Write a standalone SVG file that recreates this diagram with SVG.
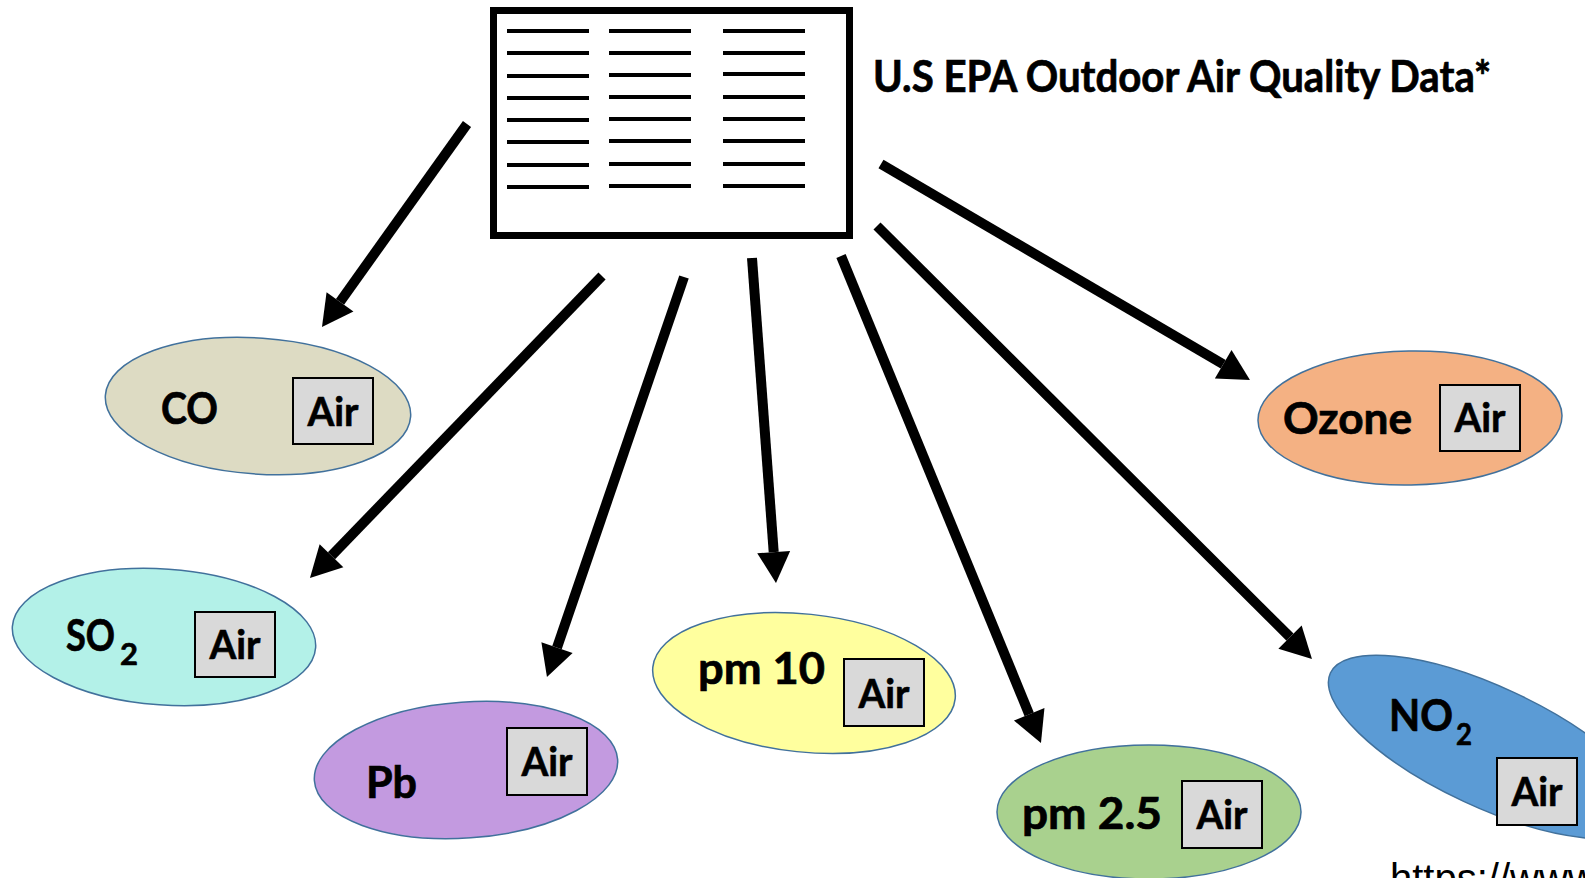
<svg xmlns="http://www.w3.org/2000/svg" width="1585" height="878" viewBox="0 0 1585 878">
<style>
.lbl{font-family:Lato,"Open Sans","Liberation Sans",sans-serif;font-weight:bold;font-size:43px;fill:#000;stroke:#000;stroke-width:0.7}
.sub{font-family:Lato,"Open Sans","Liberation Sans",sans-serif;font-weight:bold;font-size:30px;fill:#000;stroke:#000;stroke-width:0.6}
.air{font-family:Lato,"Open Sans","Liberation Sans",sans-serif;font-weight:bold;font-size:40px;fill:#000;stroke:#000;stroke-width:0.6;text-anchor:middle}
.ell{stroke:#41719C;stroke-width:1.5}
.box{fill:#D9D9D9;stroke:#000;stroke-width:2}
.row{stroke:#000;stroke-width:4}
.arr{stroke:#000;stroke-width:10;fill:none;marker-end:url(#head)}
</style>
<defs>
<marker id="head" markerUnits="userSpaceOnUse" markerWidth="40" markerHeight="40" viewBox="0 -20 40 40" refX="0" refY="0" orient="auto" overflow="visible">
<path d="M0,-16.5 L31,0 L0,16.5 Z" fill="#000"/>
</marker>
</defs>
<rect width="1585" height="878" fill="#fff"/>

<g id="connectors">
<path class="arr" d="M467,124 L340,301.8"/>
<path class="arr" d="M602,276 L331.5,555.7"/>
<path class="arr" d="M684,277 L557,647.7"/>
<path class="arr" d="M752,258 L773.7,552.1"/>
<path class="arr" d="M841,256 L1029.2,714.3"/>
<path class="arr" d="M877,226 L1290,637.1"/>
<path class="arr" d="M881,164 L1223.2,364.3"/>
</g>

<g id="epa-data">
<rect x="493.5" y="10.5" width="356" height="225" fill="#fff" stroke="#000" stroke-width="7"/>
<g class="row">
<line x1="507" y1="31" x2="589" y2="31"/><line x1="507" y1="53" x2="589" y2="53"/><line x1="507" y1="76" x2="589" y2="76"/><line x1="507" y1="98" x2="589" y2="98"/><line x1="507" y1="120" x2="589" y2="120"/><line x1="507" y1="142" x2="589" y2="142"/><line x1="507" y1="165" x2="589" y2="165"/><line x1="507" y1="187" x2="589" y2="187"/>
<line x1="609" y1="31" x2="691" y2="31"/><line x1="609" y1="53" x2="691" y2="53"/><line x1="609" y1="75" x2="691" y2="75"/><line x1="609" y1="97" x2="691" y2="97"/><line x1="609" y1="119" x2="691" y2="119"/><line x1="609" y1="141" x2="691" y2="141"/><line x1="609" y1="164" x2="691" y2="164"/><line x1="609" y1="186" x2="691" y2="186"/>
<line x1="723" y1="31" x2="805" y2="31"/><line x1="723" y1="53" x2="805" y2="53"/><line x1="723" y1="74" x2="805" y2="74"/><line x1="723" y1="97" x2="805" y2="97"/><line x1="723" y1="119" x2="805" y2="119"/><line x1="723" y1="141" x2="805" y2="141"/><line x1="723" y1="164" x2="805" y2="164"/><line x1="723" y1="186" x2="805" y2="186"/>
</g>
<text class="lbl" x="873" y="92" font-size="39" stroke-width="0.6" textLength="618" lengthAdjust="spacingAndGlyphs">U.S EPA Outdoor Air Quality Data*</text>
</g>

<g id="co">
<ellipse class="ell" cx="258" cy="406" rx="153" ry="68" fill="#DDDBC3" transform="rotate(4 258 406)"/>
<text class="lbl" x="161" y="424" textLength="57" lengthAdjust="spacingAndGlyphs">CO</text>
<rect class="box" x="293" y="378" width="80" height="66"/>
<text class="air" x="333" y="426" textLength="51" lengthAdjust="spacingAndGlyphs">Air</text>
</g>

<g id="so2">
<ellipse class="ell" cx="164" cy="637" rx="152" ry="68" fill="#B3F1E8" transform="rotate(4 164 637)"/>
<text class="lbl" x="66" y="651" textLength="49" lengthAdjust="spacingAndGlyphs">SO</text>
<text class="sub" x="120" y="665" textLength="18" lengthAdjust="spacingAndGlyphs">2</text>
<rect class="box" x="195" y="612" width="80" height="65"/>
<text class="air" x="235" y="659" textLength="51" lengthAdjust="spacingAndGlyphs">Air</text>
</g>

<g id="pb">
<ellipse class="ell" cx="466" cy="770" rx="152" ry="68" fill="#C39AE0" transform="rotate(-4 466 770)"/>
<text class="lbl" x="366" y="798" textLength="51" lengthAdjust="spacingAndGlyphs">Pb</text>
<rect class="box" x="507" y="728" width="80" height="67"/>
<text class="air" x="547" y="776" textLength="51" lengthAdjust="spacingAndGlyphs">Air</text>
</g>

<g id="pm10">
<ellipse class="ell" cx="804" cy="683" rx="152" ry="69" fill="#FFFF9E" transform="rotate(6 804 683)"/>
<text class="lbl" x="698" y="684" textLength="127" lengthAdjust="spacingAndGlyphs">pm 10</text>
<rect class="box" x="844" y="659" width="80" height="67"/>
<text class="air" x="884" y="708" textLength="51" lengthAdjust="spacingAndGlyphs">Air</text>
</g>

<g id="pm25">
<ellipse class="ell" cx="1149" cy="812" rx="152" ry="67" fill="#A9D18E"/>
<text class="lbl" x="1022" y="829" textLength="140" lengthAdjust="spacingAndGlyphs">pm 2.5</text>
<rect class="box" x="1182" y="781" width="80" height="67"/>
<text class="air" x="1222" y="829" textLength="51" lengthAdjust="spacingAndGlyphs">Air</text>
</g>

<g id="ozone">
<ellipse class="ell" cx="1410" cy="418" rx="152" ry="67" fill="#F4B183" transform="rotate(-1 1410 418)"/>
<text class="lbl" x="1283" y="434" textLength="129" lengthAdjust="spacingAndGlyphs">Ozone</text>
<rect class="box" x="1440" y="385" width="80" height="66"/>
<text class="air" x="1480" y="432" textLength="51" lengthAdjust="spacingAndGlyphs">Air</text>
</g>

<g id="no2">
<ellipse class="ell" cx="1489" cy="747" rx="175" ry="60" fill="#5B9BD5" transform="rotate(25 1489 747)"/>
<text class="lbl" x="1389" y="731" textLength="64" lengthAdjust="spacingAndGlyphs">NO</text>
<text class="sub" x="1456" y="745" textLength="16" lengthAdjust="spacingAndGlyphs">2</text>
<rect class="box" x="1497" y="758" width="80" height="67"/>
<text class="air" x="1537" y="806" textLength="51" lengthAdjust="spacingAndGlyphs">Air</text>
</g>

<g id="source">
<text x="1390" y="892" font-family="'Liberation Sans',Arial,sans-serif" font-size="40" fill="#000">https://www</text>
</g>
</svg>
